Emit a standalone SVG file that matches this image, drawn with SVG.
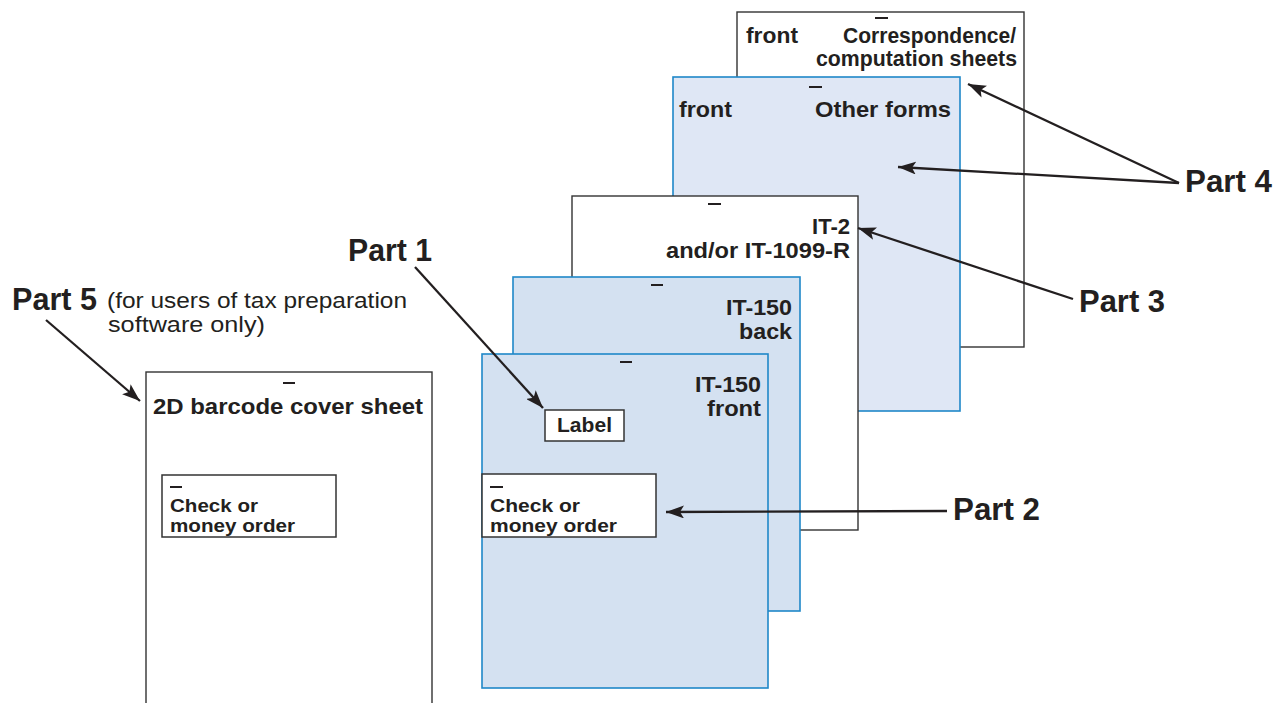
<svg xmlns="http://www.w3.org/2000/svg" width="1274" height="703" viewBox="0 0 1274 703">
<defs>
<style>
.sheet-w{fill:#ffffff;stroke:#333333;stroke-width:1.4}
.sheet-b{fill:#d4e1f1;stroke:#1f88c9;stroke-width:1.6}
.sheet-l{fill:#dfe7f5;stroke:#1f88c9;stroke-width:1.6}
.box{fill:#ffffff;stroke:#333333;stroke-width:1.5}
.dash{stroke:#231f20;stroke-width:2}
text{font-family:"Liberation Sans",Arial,Helvetica,sans-serif;fill:#231f20}
.lbl{font-size:22px;font-weight:bold}
.sm{font-size:20px;font-weight:bold}
.cm{font-size:19px;font-weight:bold}
.part{font-size:31px;font-weight:bold}
.note{font-size:22px}
.end{text-anchor:end}
.arrow{stroke:#231f20;stroke-width:2.3;fill:none;marker-end:url(#ah)}
</style>
<marker id="ah" viewBox="0 0 18 13" refX="18" refY="6.5" markerWidth="18" markerHeight="13" markerUnits="userSpaceOnUse" orient="auto">
<path d="M0,0 L18,6.5 L0,13 L4,6.5 z" fill="#231f20"/>
</marker>
</defs>

<g id="sheet-correspondence">
<rect class="sheet-w" x="737" y="12" width="287" height="335"/>
<line class="dash" x1="875" y1="18" x2="888" y2="18"/>
<text class="lbl" x="746" y="43" textLength="52" lengthAdjust="spacingAndGlyphs">front</text>
<text class="lbl end" x="1016" y="43" textLength="173" lengthAdjust="spacingAndGlyphs">Correspondence/</text>
<text class="lbl end" x="1017" y="66" textLength="201" lengthAdjust="spacingAndGlyphs">computation sheets</text>
</g>

<g id="sheet-other-forms">
<rect class="sheet-l" x="673" y="77" width="287" height="334"/>
<line class="dash" x1="809" y1="87" x2="822" y2="87"/>
<text class="lbl" x="679" y="117" textLength="53" lengthAdjust="spacingAndGlyphs">front</text>
<text class="lbl end" x="951" y="117" textLength="136" lengthAdjust="spacingAndGlyphs">Other forms</text>
</g>

<g id="sheet-it2">
<rect class="sheet-w" x="572" y="196" width="286" height="334"/>
<line class="dash" x1="708" y1="204" x2="721" y2="204"/>
<text class="lbl end" x="850" y="234" textLength="38" lengthAdjust="spacingAndGlyphs">IT-2</text>
<text class="lbl end" x="850" y="258" textLength="184" lengthAdjust="spacingAndGlyphs">and/or IT-1099-R</text>
</g>

<g id="sheet-it150-back">
<rect class="sheet-b" x="513" y="277" width="287" height="334"/>
<line class="dash" x1="651" y1="285" x2="663" y2="285"/>
<text class="lbl end" x="792" y="315" textLength="66" lengthAdjust="spacingAndGlyphs">IT-150</text>
<text class="lbl end" x="792" y="339" textLength="53" lengthAdjust="spacingAndGlyphs">back</text>
</g>

<g id="sheet-it150-front">
<rect class="sheet-b" x="482" y="354" width="286" height="334"/>
<line class="dash" x1="620" y1="362" x2="632" y2="362"/>
<text class="lbl end" x="761" y="392" textLength="66" lengthAdjust="spacingAndGlyphs">IT-150</text>
<text class="lbl end" x="761" y="416" textLength="54" lengthAdjust="spacingAndGlyphs">front</text>
</g>

<g id="label-box">
<rect class="box" x="545" y="410" width="79" height="31"/>
<text class="sm" x="557" y="432" textLength="55" lengthAdjust="spacingAndGlyphs">Label</text>
</g>

<g id="check-box-right">
<rect class="box" x="482" y="474" width="174" height="63"/>
<line class="dash" x1="490" y1="487" x2="503" y2="487"/>
<text class="cm" x="490" y="512" textLength="90" lengthAdjust="spacingAndGlyphs">Check or</text>
<text class="cm" x="490" y="532" textLength="127" lengthAdjust="spacingAndGlyphs">money order</text>
</g>

<g id="sheet-2d-barcode">
<rect class="sheet-w" x="146" y="372" width="286" height="345"/>
<line class="dash" x1="283" y1="383" x2="295" y2="383"/>
<text class="lbl" x="153" y="414" textLength="270" lengthAdjust="spacingAndGlyphs">2D barcode cover sheet</text>
</g>

<g id="check-box-left">
<rect class="box" x="162" y="475" width="174" height="62"/>
<line class="dash" x1="170" y1="487" x2="182" y2="487"/>
<text class="cm" x="170" y="512" textLength="88" lengthAdjust="spacingAndGlyphs">Check or</text>
<text class="cm" x="170" y="532" textLength="125" lengthAdjust="spacingAndGlyphs">money order</text>
</g>

<g id="part-labels">
<text class="part" x="348" y="261" textLength="84" lengthAdjust="spacingAndGlyphs">Part 1</text>
<text class="part" x="953" y="520" textLength="87" lengthAdjust="spacingAndGlyphs">Part 2</text>
<text class="part" x="1079" y="312" textLength="86" lengthAdjust="spacingAndGlyphs">Part 3</text>
<text class="part" x="1185" y="192" textLength="87" lengthAdjust="spacingAndGlyphs">Part 4</text>
<text class="part" x="12" y="310" textLength="85" lengthAdjust="spacingAndGlyphs">Part 5</text>
<text class="note" x="107" y="308" textLength="300" lengthAdjust="spacingAndGlyphs">(for users of tax preparation</text>
<text class="note" x="108" y="332" textLength="157" lengthAdjust="spacingAndGlyphs">software only)</text>
</g>

<g id="connectors">
<line class="arrow" x1="415" y1="267" x2="543" y2="408"/>
<line class="arrow" x1="947" y1="511" x2="666" y2="512"/>
<line class="arrow" x1="1073" y1="299" x2="858" y2="228"/>
<line class="arrow" x1="1179" y1="183" x2="968" y2="84"/>
<line class="arrow" x1="1179" y1="183" x2="898" y2="167"/>
<line class="arrow" x1="46" y1="320" x2="140" y2="401"/>
</g>
</svg>
